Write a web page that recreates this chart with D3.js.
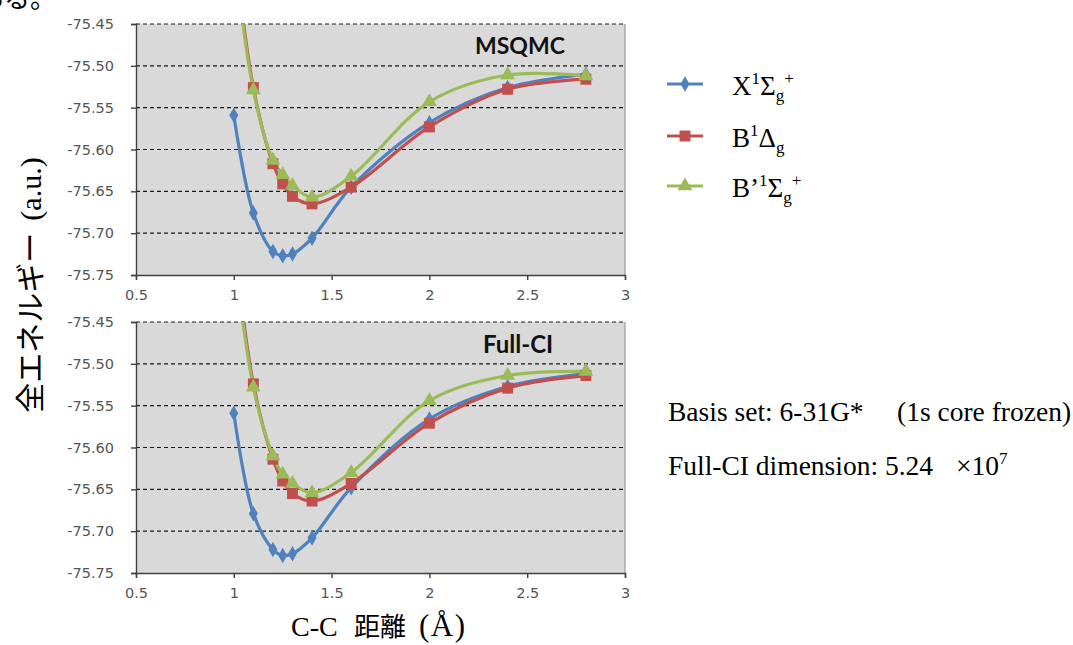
<!DOCTYPE html>
<html lang="ja">
<head>
<meta charset="UTF-8">
<title>C2 potential curves</title>
<script src="https://d3js.org/d3.v7.min.js"></script>
<style>
  body { margin: 0; background: #fff; }
  svg { display: block; }
  .tick-lbl { font-family: "DejaVu Sans", sans-serif; font-size: 14.5px; fill: #555; }
  .serif { font-family: "Liberation Serif", "Times New Roman", "Noto Sans CJK JP", serif; fill: #000; }
</style>
</head>
<body>
<svg id="chart"></svg>
<script>
const width = 1073, height = 645;
const svg = d3.select("#chart").attr("width", width).attr("height", height);

// ==== data ====
const distances = [1.0, 1.1, 1.2, 1.25, 1.3, 1.4, 1.6, 2.0, 2.4, 2.8];
const seriesNames = ["X", "B", "Bp"];
const msqmcX  = [-75.559, -75.676, -75.722, -75.727, -75.725, -75.706, -75.645, -75.568, -75.526, -75.510];
const msqmcB  = [-75.350, -75.526, -75.617, -75.641, -75.656, -75.665, -75.645, -75.573, -75.528, -75.516];
const msqmcBp = [-75.360, -75.529, -75.613, -75.630, -75.643, -75.657, -75.632, -75.543, -75.511, -75.512];
const fullciX  = [-75.559, -75.679, -75.722, -75.729, -75.727, -75.708, -75.648, -75.566, -75.527, -75.512];
const fullciB  = [-75.350, -75.524, -75.614, -75.640, -75.655, -75.664, -75.643, -75.571, -75.529, -75.514];
const fullciBp = [-75.360, -75.528, -75.610, -75.632, -75.643, -75.654, -75.630, -75.544, -75.514, -75.509];
const xTicks = [0.5, 1, 1.5, 2, 2.5, 3];
const yTicks = [-75.75, -75.70, -75.65, -75.60, -75.55, -75.50, -75.45];

const colors = { X: "#4f81bd", B: "#c0504d", Bp: "#9bbb59" };
const symbols = { X: d3.symbolDiamond, B: d3.symbolSquare, Bp: d3.symbolTriangle };
const symSize = { X: 70, B: 120, Bp: 95 };

const x = d3.scaleLinear().domain([0.5, 3]).range([136, 625]);
const fmtY = d => d3.format(".2f")(d).replace("−", "-");

const panels = [
  { title: "MSQMC", top: 24, bottom: 275, data: { X: msqmcX, B: msqmcB, Bp: msqmcBp } },
  { title: "Full-CI", top: 322, bottom: 573, data: { X: fullciX, B: fullciB, Bp: fullciBp } }
];

const defs = svg.append("defs");
defs.append("clipPath").attr("id", "chartclip")
  .append("rect").attr("x", 0).attr("y", 0).attr("width", 631).attr("height", 610);

const chart = svg.append("g").attr("clip-path", "url(#chartclip)");

panels.forEach((p, i) => {
  const y = d3.scaleLinear().domain([-75.75, -75.45]).range([p.bottom, p.top]);
  const g = chart.append("g");

  defs.append("clipPath").attr("id", "plot" + i)
    .append("rect").attr("x", x(0.5)).attr("y", p.top)
    .attr("width", x(3) - x(0.5)).attr("height", p.bottom - p.top);

  g.append("rect")
    .attr("x", x(0.5)).attr("y", p.top)
    .attr("width", x(3) - x(0.5)).attr("height", p.bottom - p.top)
    .attr("fill", "#d9d9d9");

  // right edge
  g.append("line")
    .attr("x1", x(3)).attr("x2", x(3)).attr("y1", p.top).attr("y2", p.bottom)
    .attr("stroke", "#8c8c8c").attr("stroke-width", 1);

  // dashed gridlines
  g.selectAll(".grid").data(yTicks.slice(1)).enter().append("line")
    .attr("x1", x(0.5)).attr("x2", x(3))
    .attr("y1", d => y(d)).attr("y2", d => y(d))
    .attr("stroke", "#1a1a1a").attr("stroke-width", 1.2)
    .attr("stroke-dasharray", "4,3");

  // axes
  const yAxis = d3.axisLeft(y).tickValues(yTicks).tickFormat(fmtY)
    .tickSize(5).tickPadding(17);
  const ya = g.append("g").attr("transform", `translate(${x(0.5)},0)`).call(yAxis);
  const xAxis = d3.axisBottom(x).tickValues(xTicks).tickFormat(d3.format("")).tickSize(5).tickPadding(10);
  const xa = g.append("g").attr("transform", `translate(0,${p.bottom})`).call(xAxis);
  [ya, xa].forEach(a => {
    a.select(".domain").attr("stroke", "#404040").attr("stroke-width", 1.4);
    a.selectAll(".tick line").attr("stroke", "#404040").attr("stroke-width", 1.4);
    a.selectAll(".tick text").attr("class", "tick-lbl").attr("fill", null);
  });

  // title
  g.append("text")
    .attr("x", p.title === "MSQMC" ? 475 : 483)
    .attr("y", p.top + (p.title === "MSQMC" ? 30 : 31))
    .attr("font-family", "Lato, 'Open Sans', sans-serif")
    .attr("font-weight", "bold")
    .attr("font-size", p.title === "MSQMC" ? 23 : 24)
    .attr("fill", "#111")
    .text(p.title);

  const line = d3.line()
    .x((d, k) => x(distances[k]))
    .y(d => y(d))
    .curve(d3.curveCatmullRom.alpha(0.5));

  const plot = g.append("g").attr("clip-path", `url(#plot${i})`);
  seriesNames.forEach(s => {
    plot.append("path")
      .datum(p.data[s])
      .attr("d", line)
      .attr("fill", "none")
      .attr("stroke", colors[s])
      .attr("stroke-width", 3.2);
  });
  seriesNames.forEach(s => {
    plot.selectAll(".m" + s).data(p.data[s]).enter().append("path")
      .attr("transform", (d, k) => `translate(${x(distances[k])},${y(d)})`)
      .attr("d", d3.symbol().type(symbols[s]).size(symSize[s]))
      .attr("fill", colors[s]);
  });
});

// axis titles
const yTitle = svg.append("text")
  .attr("class", "serif")
  .attr("transform", "translate(41,285) rotate(-90)")
  .attr("text-anchor", "middle")
  .attr("font-size", 30);
yTitle.append("tspan").text("全エネルギー");
yTitle.append("tspan").attr("dx", 12).text("(a.u.)");

const xTitle = svg.append("text")
  .attr("class", "serif")
  .attr("y", 636)
  .attr("font-size", 28);
xTitle.append("tspan").attr("x", 291).text("C-C");
xTitle.append("tspan").attr("x", 354).attr("font-size", 26).text("距離");
xTitle.append("tspan").attr("x", 419).attr("font-size", 31).attr("letter-spacing", 1.5).text("(Å)");

// cut-off text fragment at the very top
svg.append("text")
  .attr("class", "serif")
  .attr("x", 56).attr("y", 8)
  .attr("text-anchor", "end")
  .attr("font-size", 26)
  .text("ある。");

// legend
const legendRows = [
  { key: "X", y: 84, parts: [["X", 0], ["1", -1], ["Σ", 0], ["g", 1], ["+", -1]] },
  { key: "B", y: 136, parts: [["B", 0], ["1", -1], ["Δ", 0], ["g", 1]] },
  { key: "Bp", y: 186, parts: [["B’", 0], ["1", -1], ["Σ", 0], ["g", 1], ["+", -1]] }
];
const legend = svg.append("g");
legendRows.forEach(r => {
  legend.append("line")
    .attr("x1", 667).attr("x2", 703).attr("y1", r.y).attr("y2", r.y)
    .attr("stroke", colors[r.key]).attr("stroke-width", 3.2);
  legend.append("path")
    .attr("transform", `translate(685,${r.y})`)
    .attr("d", d3.symbol().type(symbols[r.key]).size(symSize[r.key]))
    .attr("fill", colors[r.key]);
  const t = legend.append("text").attr("class", "serif")
    .attr("x", 732).attr("y", r.y + 11).attr("font-size", 27);
  let level = 0;
  r.parts.forEach(([str, lv]) => {
    const span = t.append("tspan").text(str);
    if (lv !== 0) span.attr("font-size", 17);
    const shift = lv === -1 ? -11 : lv === 1 ? 6 : 0;
    span.attr("dy", shift - level);
    level = shift;
  });
});

// notes
const note1 = svg.append("text").attr("class", "serif")
  .attr("x", 668).attr("y", 421).attr("font-size", 27.5);
note1.append("tspan").text("Basis set: 6-31G*");
note1.append("tspan").attr("x", 897).text("(1s core frozen)");

const note2 = svg.append("text").attr("class", "serif")
  .attr("x", 668).attr("y", 475).attr("font-size", 27.5);
note2.append("tspan").text("Full-CI dimension: 5.24");
note2.append("tspan").attr("x", 956).text("×10");
note2.append("tspan").attr("dy", -11).attr("font-size", 17).text("7");
</script>
</body>
</html>
